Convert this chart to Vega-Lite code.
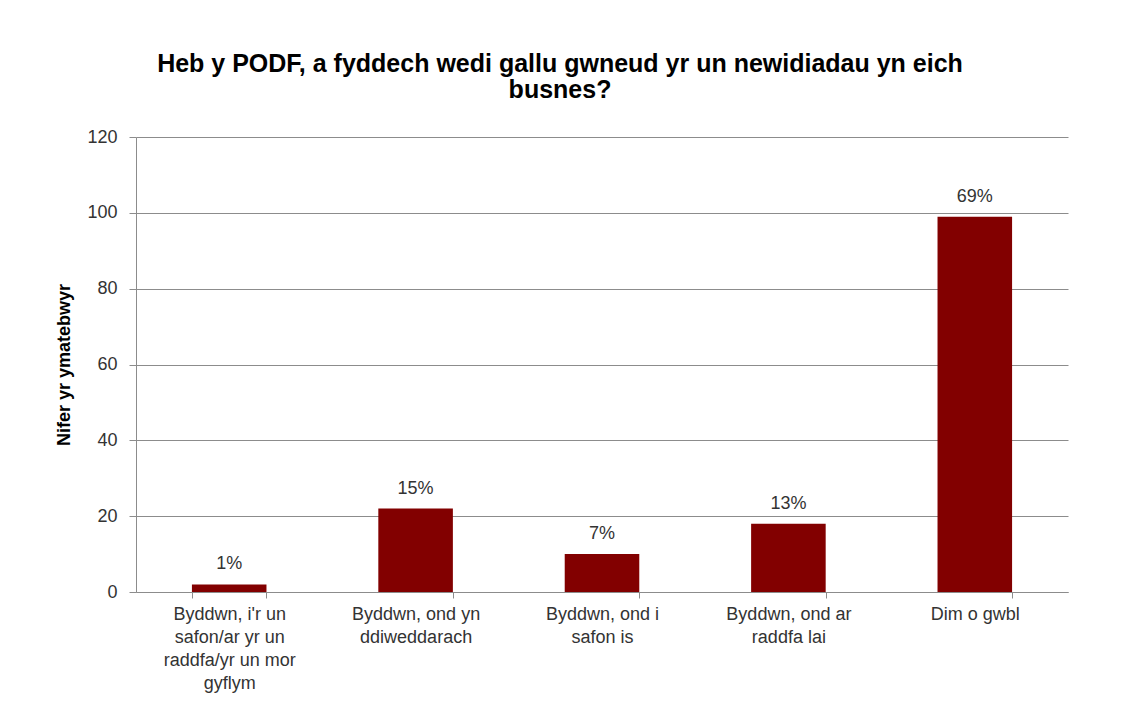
{
  "$schema": "https://vega.github.io/schema/vega-lite/v6.json",
  "width": 932,
  "height": 455,
  "autosize": "none",
  "padding": {"left": 136, "top": 137, "right": 56, "bottom": 126},
  "background": "white",
  "title": {
    "text": ["Heb y PODF, a fyddech wedi gallu gwneud yr un newidiadau yn eich", "busnes?"],
    "font": "Liberation Sans",
    "fontSize": 25,
    "fontWeight": "bold",
    "color": "#000000",
    "anchor": "middle",
    "dx": -42,
    "offset": 25,
    "lineHeight": 26
  },
  "data": {
    "values": [
      {"ateb": "Byddwn, i'r un safon/ar yr un raddfa/yr un mor gyflym", "nifer": 2, "canran": "1%"},
      {"ateb": "Byddwn, ond yn ddiweddarach", "nifer": 22, "canran": "15%"},
      {"ateb": "Byddwn, ond i safon is", "nifer": 10, "canran": "7%"},
      {"ateb": "Byddwn, ond ar raddfa lai", "nifer": 18, "canran": "13%"},
      {"ateb": "Dim o gwbl", "nifer": 99, "canran": "69%"}
    ]
  },
  "config": {
    "view": {"stroke": null},
    "font": "Liberation Sans",
    "axis": {
      "labelFont": "Liberation Sans",
      "labelFontSize": 18,
      "labelColor": "#333333",
      "domainColor": "#8c8c8c",
      "tickColor": "#8c8c8c",
      "gridColor": "#8c8c8c"
    }
  },
  "encoding": {
    "x": {
      "field": "ateb",
      "type": "nominal",
      "sort": null,
      "scale": {"paddingInner": 0.6, "paddingOuter": 0.3},
      "axis": {
        "title": null,
        "labelAngle": 0,
        "labelPadding": 7,
        "tickBand": "extent",
        "tickSize": 6,
        "labelLineHeight": 23,
        "labelBaseline": "top",
        "labelLimit": 300,
        "labelExpr": "datum.value == \"Byddwn, i'r un safon/ar yr un raddfa/yr un mor gyflym\" ? [\"Byddwn, i'r un\", 'safon/ar yr un', 'raddfa/yr un mor', 'gyflym'] : datum.value == 'Byddwn, ond yn ddiweddarach' ? ['Byddwn, ond yn', 'ddiweddarach'] : datum.value == 'Byddwn, ond i safon is' ? ['Byddwn, ond i', 'safon is'] : datum.value == 'Byddwn, ond ar raddfa lai' ? ['Byddwn, ond ar', 'raddfa lai'] : datum.value"
      }
    },
    "y": {
      "field": "nifer",
      "type": "quantitative",
      "scale": {"domain": [0, 120]},
      "axis": {
        "title": "Nifer yr ymatebwyr",
        "titleFont": "Liberation Sans",
        "titleFontSize": 18,
        "titleFontWeight": "bold",
        "titleColor": "#000000",
        "titlePadding": 13,
        "values": [0, 20, 40, 60, 80, 100, 120],
        "tickSize": 7,
        "labelPadding": 12,
        "grid": true
      }
    }
  },
  "layer": [
    {"mark": {"type": "bar", "color": "#820000"}},
    {
      "mark": {"type": "text", "baseline": "bottom", "dy": -11, "fontSize": 18, "color": "#333333", "font": "Liberation Sans"},
      "encoding": {"text": {"field": "canran"}}
    }
  ]
}
